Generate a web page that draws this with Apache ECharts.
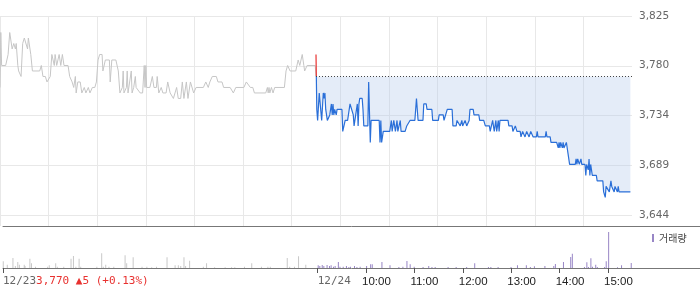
<!DOCTYPE html>
<html><head><meta charset="utf-8">
<script src="https://cdn.jsdelivr.net/npm/echarts@6/dist/echarts.min.js"></script>
<style>html,body{margin:0;padding:0;background:#fff}#c{width:700px;height:289px}</style>
</head><body><div id="c"></div>
<script>
// minutes since 09:00 of 12/23
const day1Times = [0,1,2,7,10,12,14,15,17,19,20,22,23,26,28,30,32,34,35,36,38,40,49,51,53,56,58,60,62,64,67,68,70,73,75,77,79,84,86,89,91,93,94,96,99,101,104,106,109,111,114,117,119,121,123,126,127,130,135,136,138,143,146,148,151,152,153,156,157,158,160,162,163,165,167,168,170,173,176,178,179,180,181,185,188,190,193,194,196,199,201,205,207,210,214,216,218,220,223,225,227,230,232,235,237,239,242,251,254,257,259,262,267,269,274,276,284,288,291,301,304,306,309,312,314,328,330,331,332,333,335,337,339,351,353,355,358,365,368,370,373,375,376,379,389,390];
const day1Prices = [3760,3810,3780,3780,3790,3810,3810,3795,3800,3795,3800,3780,3775,3770,3800,3805,3805,3795,3805,3805,3790,3775,3775,3780,3770,3770,3765,3765,3770,3790,3780,3790,3780,3790,3780,3790,3780,3780,3770,3765,3760,3770,3755,3765,3765,3755,3760,3755,3760,3755,3760,3760,3765,3785,3790,3790,3775,3785,3785,3765,3785,3785,3775,3755,3760,3775,3755,3760,3775,3755,3755,3775,3755,3760,3770,3760,3760,3755,3755,3780,3760,3780,3760,3760,3770,3760,3760,3770,3755,3760,3755,3755,3765,3755,3750,3750,3760,3750,3750,3765,3750,3765,3750,3765,3765,3755,3760,3760,3765,3760,3765,3770,3770,3765,3765,3760,3760,3755,3760,3760,3765,3765,3760,3760,3755,3755,3760,3755,3760,3755,3760,3755,3760,3760,3775,3780,3775,3775,3785,3780,3790,3780,3775,3780,3780,3770];
// minutes since 09:00 of 12/24
const day2Times = [0,1,2,4,6,7,9,10,11,12,14,15,17,19,20,21,22,23,25,26,32,33,36,39,41,42,44,46,47,49,51,52,53,54,57,58,59,64,65,67,68,78,79,80,81,83,91,93,94,96,98,100,101,104,105,110,112,116,122,124,126,132,133,136,137,143,144,151,152,157,158,160,162,168,169,173,174,178,180,181,184,186,189,190,194,195,201,202,207,209,214,215,217,218,220,222,223,225,226,227,237,238,242,243,246,248,252,253,255,258,260,263,265,268,272,273,274,283,284,285,289,290,297,299,300,301,302,304,305,306,309,310,312,313,320,321,322,323,325,327,328,332,333,334,336,337,338,339,341,346,347,354,355,357,358,360,362,363,364,365,368,369,372,373,374,388];
const day2Prices = [3790,3740,3730,3755,3755,3730,3755,3750,3755,3740,3730,3730,3735,3745,3735,3745,3735,3740,3735,3740,3740,3720,3730,3730,3740,3745,3745,3735,3725,3735,3745,3725,3745,3750,3750,3740,3725,3725,3765,3710,3730,3730,3710,3730,3710,3720,3720,3730,3720,3730,3720,3730,3720,3730,3720,3720,3725,3730,3730,3750,3730,3730,3745,3745,3740,3740,3730,3730,3735,3735,3730,3730,3740,3740,3725,3725,3730,3725,3730,3725,3730,3725,3730,3740,3740,3735,3735,3730,3730,3725,3725,3720,3720,3730,3720,3730,3720,3730,3720,3730,3730,3725,3725,3720,3725,3720,3720,3715,3720,3715,3720,3715,3720,3715,3715,3720,3715,3715,3720,3715,3715,3710,3710,3705,3710,3705,3710,3705,3710,3705,3710,3705,3705,3690,3690,3695,3690,3695,3690,3695,3690,3690,3680,3690,3685,3695,3680,3690,3680,3680,3675,3675,3665,3660,3670,3670,3665,3670,3675,3670,3665,3670,3665,3670,3665,3665];
const prevClose = 3770;
const vol1Times = [1,6,13,16,19,21,27,28,34,36,41,56,58,66,68,76,85,88,91,95,97,117,123,125,128,132,138,152,154,162,173,179,185,191,204,214,218,221,225,227,232,249,253,263,276,284,288,300,309,321,329,332,353,356,362,367,376];
const vol1Values = [67,33,100,20,60,33,33,20,93,47,13,13,27,47,13,13,93,120,13,93,13,13,147,13,33,13,13,127,47,107,13,13,7,13,107,27,27,20,107,20,73,13,47,7,7,7,7,13,47,13,13,13,100,13,13,117,33];
const vol2Times = [0,2,5,7,11,14,16,19,21,25,27,31,35,38,40,45,48,52,60,65,67,79,89,100,105,110,114,119,130,137,141,145,161,171,184,194,211,214,223,239,247,258,263,268,281,292,294,304,313,315,330,333,335,338,340,344,346,355,357,360,371,376,388];
const vol2Values = [27,20,30,20,30,20,27,13,20,60,13,13,20,10,13,20,10,13,20,37,37,60,27,10,13,70,37,13,10,20,10,10,10,10,10,47,10,10,10,10,27,27,10,17,20,20,40,60,110,143,10,57,10,97,13,33,10,10,67,360,7,27,50];
const priceTickLabels = ['3,644','3,689','3,734','3,780','3,825'];
const timeTickMinutes = [0,390,450,510,570,630,690,750];
const timeTickLabels = ['12/23','12/24','10:00','11:00','12:00','13:00','14:00','15:00'];
const prevDayInfo = '3,770 ▲5 (+0.13%)';
const volumeName = '거래량';

const DAY = 390;
const priceMin = 3644, priceMax = 3825, priceStep = 45.25;
const pairs = (ts, vs, off) => ts.map((t, i) => [t + off, vs[i]]);
const labelPos = timeTickMinutes.map((v, i) => i < 2 ? v : v - 5);
const volXMax = 2 * DAY * 700 / 632;

const chart = echarts.init(document.getElementById('c'), null, {renderer: 'canvas'});
chart.setOption({
  animation: false,
  grid: [
    {left: 0, top: 16, width: 632, height: 199},
    {left: 0, top: 226, width: 700, height: 42},
    {left: 0, top: 16, width: 632, height: 210}
  ],
  legend: {
    data: [volumeName], left: 652, top: 233, icon: 'rect', itemWidth: 2, itemHeight: 8,
    selectedMode: false, padding: 0,
    textStyle: {fontSize: 10, color: '#444', fontFamily: 'Noto Sans CJK KR'}
  },
  visualMap: {
    type: 'piecewise', show: false, seriesIndex: 1, dimension: 1,
    pieces: [{gt: prevClose, lte: 5000, color: '#e8312f'}, {gte: 2000, lte: prevClose, color: '#2a6fd8'}]
  },
  xAxis: [
    {gridIndex: 0, type: 'value', min: 0, max: 2 * DAY, show: false, splitLine: {show: false}},
    {gridIndex: 1, type: 'value', min: 0, max: volXMax, position: 'bottom',
     axisLine: {show: true, lineStyle: {color: '#777'}},
     axisTick: {show: true, customValues: timeTickMinutes, length: 5, lineStyle: {color: '#555'}},
     axisLabel: {
       customValues: labelPos, align: 'left', margin: 8,
       formatter: (v) => {
         const i = labelPos.findIndex(p => Math.abs(p - v) < 0.01);
         if (i < 0) return '';
         if (i === 0) return '{g|' + timeTickLabels[0] + '}{r|' + prevDayInfo + '}';
         if (i === 1) return '{g|' + timeTickLabels[1] + '}';
         return '{h|' + timeTickLabels[i] + '}';
       },
       rich: {
         g: {color: '#666', fontFamily: 'DejaVu Sans Mono', fontSize: 11},
         r: {color: '#e8312f', fontFamily: 'DejaVu Sans Mono', fontSize: 11},
         h: {color: '#222', fontFamily: 'Liberation Sans', fontSize: 11.5}
       }
     },
     splitLine: {show: false}},
    {gridIndex: 1, type: 'value', min: 0, max: volXMax, position: 'top',
     axisLine: {show: true, lineStyle: {color: '#777'}}, axisTick: {show: false},
     axisLabel: {show: false}, splitLine: {show: false}},
    {gridIndex: 2, type: 'value', min: 0, max: 2 * DAY, interval: 60,
     axisLine: {show: false}, axisTick: {show: false}, axisLabel: {show: false},
     splitLine: {show: true, showMaxLine: false, lineStyle: {color: '#e8e8e8'}}}
  ],
  yAxis: [
    {gridIndex: 0, type: 'value', position: 'right', min: priceMin, max: priceMax, interval: priceStep,
     axisLine: {show: false}, axisTick: {show: false},
     axisLabel: {margin: 7, color: '#666', fontSize: 10.5, fontFamily: 'DejaVu Sans',
       formatter: (v) => priceTickLabels[Math.round((v - priceMin) / priceStep)] || ''},
     splitLine: {show: true, lineStyle: {color: '#e8e8e8'}}},
    {gridIndex: 1, type: 'value', min: 0, max: 420, show: false, splitLine: {show: false}},
    {gridIndex: 2, type: 'value', min: 0, max: 1, show: false, splitLine: {show: false}}
  ],
  series: [
    {type: 'line', name: 'prev', xAxisIndex: 0, yAxisIndex: 0, data: pairs(day1Times, day1Prices, 0),
     symbol: 'none', silent: true, lineStyle: {color: '#c6c6c6', width: 1}, z: 3},
    {type: 'line', name: 'today', xAxisIndex: 0, yAxisIndex: 0, data: pairs(day2Times, day2Prices, DAY),
     symbol: 'none', silent: true, lineStyle: {width: 1.2}, z: 4,
     areaStyle: {color: 'rgba(178,201,235,0.35)', opacity: 1, origin: prevClose},
     markLine: {symbol: 'none', silent: true, label: {show: false}, animation: false,
       lineStyle: {color: '#444', type: [1, 2], width: 1},
       data: [[{coord: [DAY, prevClose]}, {coord: [2 * DAY, prevClose]}]]}},
    {type: 'bar', name: 'prevVol', xAxisIndex: 1, yAxisIndex: 1, data: pairs(vol1Times, vol1Values, 0),
     barWidth: 1, silent: true, itemStyle: {color: '#c8c8c8'}},
    {type: 'bar', name: volumeName, xAxisIndex: 1, yAxisIndex: 1, data: pairs(vol2Times, vol2Values, DAY),
     barWidth: 1, silent: true, itemStyle: {color: '#9886c6'}}
  ]
});
</script></body></html>
